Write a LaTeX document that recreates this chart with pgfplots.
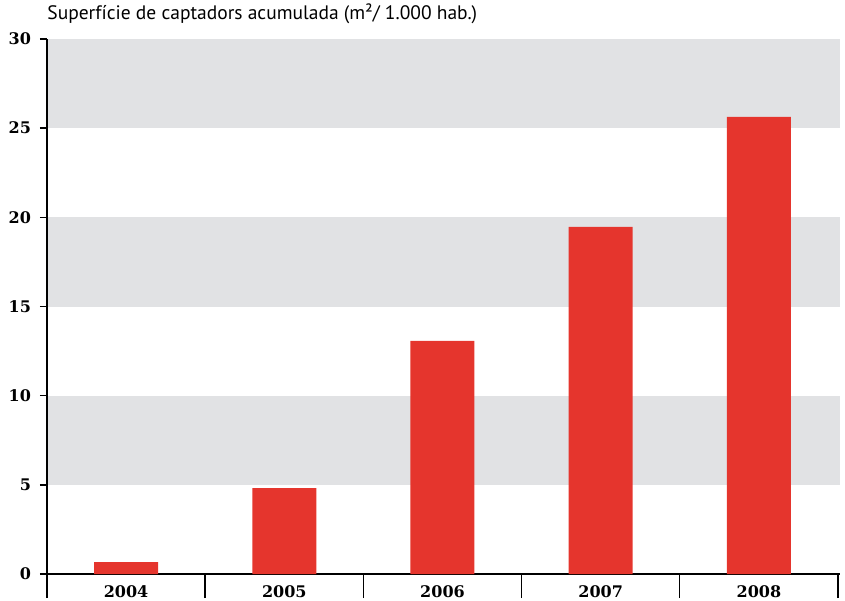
\documentclass[border=0pt]{standalone}
\usepackage{fontspec}
\setmainfont{PT Sans}
\newfontfamily\numfont{DejaVu Serif}
\usepackage{pgfplots}
\pgfplotsset{compat=1.18}
\definecolor{barred}{HTML}{E5352D}
\definecolor{bandgray}{HTML}{E1E2E4}

\begin{document}
\begin{tikzpicture}
\begin{axis}[
    at={(0,0)}, anchor=south west,
    width=395.5pt, height=267.5pt, scale only axis,
    set layers, clip=false,
    xmin=-0.5, xmax=4.5, ymin=0, ymax=30,
    axis x line*=bottom, axis y line*=left,
    axis line style={black, line width=0.7pt, -},
    xtick={0,1,2,3,4},
    xticklabels={2004,2005,2006,2007,2008},
    x tick label style={font=\numfont\bfseries\fontsize{8}{9}\selectfont, yshift=1pt},
    xtick style={draw=none},
    extra x ticks={-0.5,0.5,1.5,2.5,3.5,4.5},
    extra x tick labels={},
    extra x tick style={xtick style={draw=black, line width=0.7pt}, major tick length=12pt},
    ytick={0,5,10,15,20,25,30},
    y tick label style={font=\numfont\bfseries\fontsize{8}{9}\selectfont, /pgf/number format/assume math mode=true, xshift=-1pt},
    ytick style={black, line width=0.7pt},
    tick align=outside, major tick length=3.5pt,
    ybar, bar width=32pt,
]
\pgfonlayer{axis background}
\fill[bandgray] (axis cs:-0.5,5) rectangle ([xshift=1pt]axis cs:4.5,10);
\fill[bandgray] (axis cs:-0.5,15) rectangle ([xshift=1pt]axis cs:4.5,20);
\fill[bandgray] (axis cs:-0.5,25) rectangle ([xshift=1pt]axis cs:4.5,30);
\draw[black, line width=0.7pt] (axis cs:4.5,0) -- ([xshift=1pt]axis cs:4.5,0);
\endpgfonlayer
\addplot[fill=barred, draw=none] coordinates {
    (0,0.67) (1,4.82) (2,13.07) (3,19.46) (4,25.63)
};
\end{axis}
\node[anchor=base west, inner sep=0pt, font=\fontsize{9.75}{11}\selectfont] at (0,277pt)
    {Superfície de captadors acumulada (m²/ 1.000 hab.)};
\pgfresetboundingbox
\path (-23.5pt,-13pt) rectangle (399pt,287pt);
\end{tikzpicture}
\end{document}
